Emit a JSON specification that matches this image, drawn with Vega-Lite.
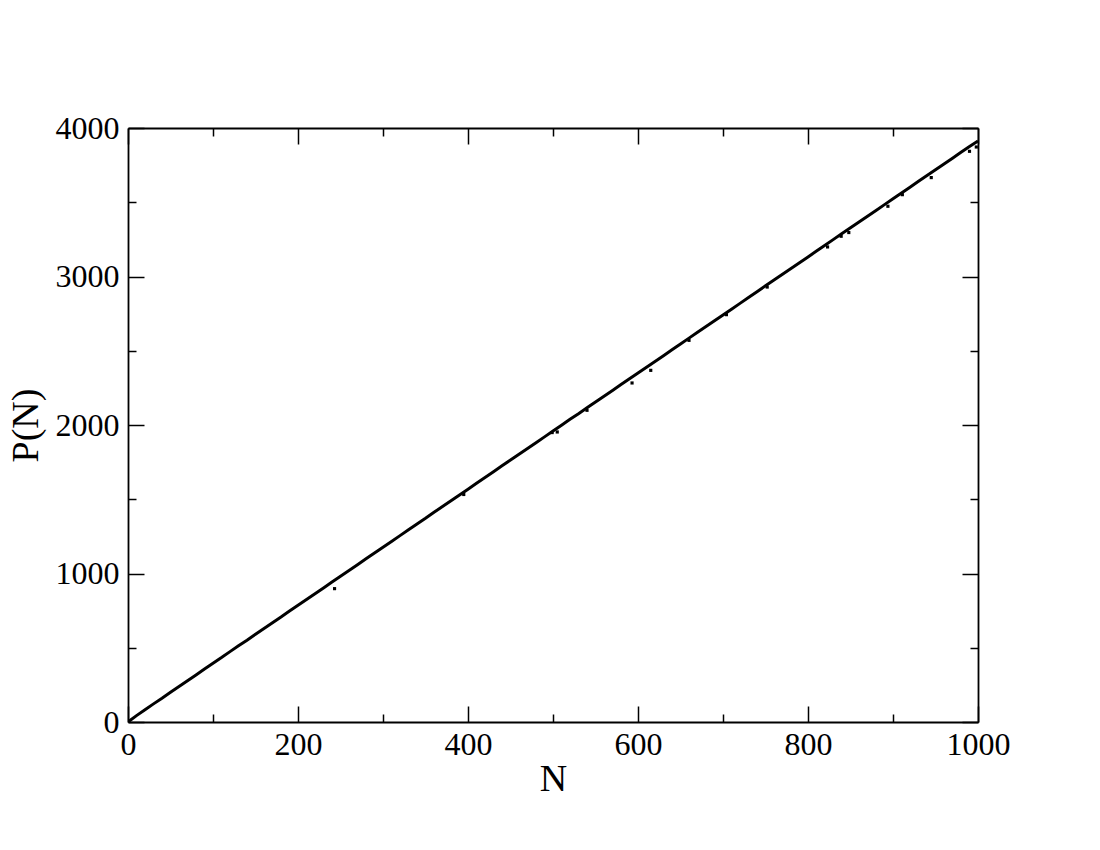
{
  "$schema": "https://vega.github.io/schema/vega-lite/v6.json",
  "width": 850,
  "height": 594,
  "autosize": "none",
  "padding": {"left": 128, "top": 128, "right": 122, "bottom": 128},
  "background": "white",
  "config": {
    "view": {"stroke": null},
    "axis": {
      "grid": false,
      "labelFont": "Liberation Serif",
      "titleFont": "Liberation Serif",
      "labelFontSize": 32,
      "titleFontSize": 38,
      "titleFontWeight": "normal",
      "labelColor": "black",
      "titleColor": "black",
      "domainColor": "black",
      "tickColor": "black",
      "domainWidth": 1.8,
      "tickWidth": 1.5,
      "labelFlush": false,
      "labelOverlap": false
    }
  },
  "datasets": {
    "series": [
      {"N": 0, "P": 0}, {"N": 10, "P": 43}, {"N": 20, "P": 83}, {"N": 30, "P": 122}, {"N": 40, "P": 160},
      {"N": 50, "P": 200}, {"N": 60, "P": 239}, {"N": 70, "P": 278}, {"N": 80, "P": 317}, {"N": 90, "P": 357},
      {"N": 100, "P": 396}, {"N": 110, "P": 434}, {"N": 120, "P": 474}, {"N": 130, "P": 513}, {"N": 140, "P": 551},
      {"N": 150, "P": 591}, {"N": 160, "P": 630}, {"N": 170, "P": 669}, {"N": 180, "P": 707}, {"N": 190, "P": 747},
      {"N": 200, "P": 786}, {"N": 210, "P": 825}, {"N": 220, "P": 864}, {"N": 230, "P": 903}, {"N": 240, "P": 942},
      {"N": 250, "P": 982}, {"N": 260, "P": 1020}, {"N": 270, "P": 1059}, {"N": 280, "P": 1099}, {"N": 290, "P": 1138},
      {"N": 300, "P": 1177}, {"N": 310, "P": 1216}, {"N": 320, "P": 1255}, {"N": 330, "P": 1294}, {"N": 340, "P": 1334},
      {"N": 350, "P": 1372}, {"N": 360, "P": 1412}, {"N": 370, "P": 1451}, {"N": 380, "P": 1490}, {"N": 390, "P": 1529},
      {"N": 400, "P": 1568}, {"N": 410, "P": 1607}, {"N": 420, "P": 1646}, {"N": 430, "P": 1685}, {"N": 440, "P": 1725},
      {"N": 450, "P": 1764}, {"N": 460, "P": 1803}, {"N": 470, "P": 1842}, {"N": 480, "P": 1881}, {"N": 490, "P": 1920},
      {"N": 500, "P": 1959}, {"N": 510, "P": 1998}, {"N": 520, "P": 2038}, {"N": 530, "P": 2076}, {"N": 540, "P": 2116},
      {"N": 550, "P": 2155}, {"N": 560, "P": 2194}, {"N": 570, "P": 2233}, {"N": 580, "P": 2272}, {"N": 590, "P": 2311},
      {"N": 600, "P": 2350}, {"N": 610, "P": 2389}, {"N": 620, "P": 2428}, {"N": 630, "P": 2467}, {"N": 640, "P": 2507},
      {"N": 650, "P": 2546}, {"N": 660, "P": 2585}, {"N": 670, "P": 2624}, {"N": 680, "P": 2663}, {"N": 690, "P": 2702},
      {"N": 700, "P": 2741}, {"N": 710, "P": 2780}, {"N": 720, "P": 2819}, {"N": 730, "P": 2858}, {"N": 740, "P": 2898},
      {"N": 750, "P": 2937}, {"N": 760, "P": 2976}, {"N": 770, "P": 3015}, {"N": 780, "P": 3054}, {"N": 790, "P": 3093},
      {"N": 800, "P": 3132}, {"N": 810, "P": 3171}, {"N": 820, "P": 3210}, {"N": 830, "P": 3250}, {"N": 840, "P": 3289},
      {"N": 850, "P": 3328}, {"N": 860, "P": 3367}, {"N": 870, "P": 3406}, {"N": 880, "P": 3445}, {"N": 890, "P": 3484},
      {"N": 900, "P": 3523}, {"N": 910, "P": 3562}, {"N": 920, "P": 3601}, {"N": 930, "P": 3641}, {"N": 940, "P": 3680},
      {"N": 950, "P": 3719}, {"N": 960, "P": 3758}, {"N": 970, "P": 3797}, {"N": 980, "P": 3836}, {"N": 990, "P": 3875},
      {"N": 1000, "P": 3912}
    ],
    "outliers": [
      {"N": 243, "P": 898}, {"N": 395, "P": 1532}, {"N": 499, "P": 1949}, {"N": 505, "P": 1953},
      {"N": 540, "P": 2099}, {"N": 593, "P": 2283}, {"N": 615, "P": 2368}, {"N": 660, "P": 2570},
      {"N": 704, "P": 2743}, {"N": 752, "P": 2929}, {"N": 823, "P": 3199}, {"N": 839, "P": 3271},
      {"N": 848, "P": 3296}, {"N": 894, "P": 3473}, {"N": 911, "P": 3551}, {"N": 945, "P": 3666},
      {"N": 990, "P": 3843}, {"N": 998, "P": 3872}
    ]
  },
  "resolve": {"axis": {"x": "independent", "y": "independent"}},
  "layer": [
    {
      "data": {"name": "series"},
      "mark": {"type": "line", "color": "black", "strokeWidth": 3, "clip": true},
      "encoding": {
        "x": {
          "field": "N", "type": "quantitative",
          "scale": {"domain": [0, 1000], "nice": false, "zero": false},
          "axis": {"orient": "bottom", "values": [0, 200, 400, 600, 800, 1000], "tickSize": -16, "labelPadding": 23, "title": "N", "titlePadding": 0, "format": "d"}
        },
        "y": {
          "field": "P", "type": "quantitative",
          "scale": {"domain": [0, 4000], "nice": false, "zero": false},
          "axis": {"orient": "left", "values": [0, 1000, 2000, 3000, 4000], "tickSize": -16, "labelPadding": 25, "title": "P(N)", "titlePadding": 10, "format": "d"}
        }
      }
    },
    {
      "data": {"name": "outliers"},
      "mark": {"type": "point", "shape": "square", "filled": true, "size": 10, "color": "black", "opacity": 1},
      "encoding": {
        "x": {"field": "N", "type": "quantitative",
          "axis": {"orient": "top", "values": [0, 200, 400, 600, 800, 1000], "tickSize": -16, "labels": false, "title": null}},
        "y": {"field": "P", "type": "quantitative",
          "axis": {"orient": "right", "values": [0, 1000, 2000, 3000, 4000], "tickSize": -16, "labels": false, "title": null}}
      }
    },
    {
      "data": {"name": "outliers"},
      "mark": {"type": "point", "opacity": 0},
      "encoding": {
        "x": {"field": "N", "type": "quantitative",
          "axis": {"orient": "bottom", "values": [100, 300, 500, 700, 900], "tickSize": -8, "labels": false, "domain": false, "title": null}},
        "y": {"field": "P", "type": "quantitative",
          "axis": {"orient": "left", "values": [500, 1500, 2500, 3500], "tickSize": -8, "labels": false, "domain": false, "title": null}}
      }
    },
    {
      "data": {"name": "outliers"},
      "mark": {"type": "point", "opacity": 0},
      "encoding": {
        "x": {"field": "N", "type": "quantitative",
          "axis": {"orient": "top", "values": [100, 300, 500, 700, 900], "tickSize": -8, "labels": false, "domain": false, "title": null}},
        "y": {"field": "P", "type": "quantitative",
          "axis": {"orient": "right", "values": [500, 1500, 2500, 3500], "tickSize": -8, "labels": false, "domain": false, "title": null}}
      }
    }
  ]
}
